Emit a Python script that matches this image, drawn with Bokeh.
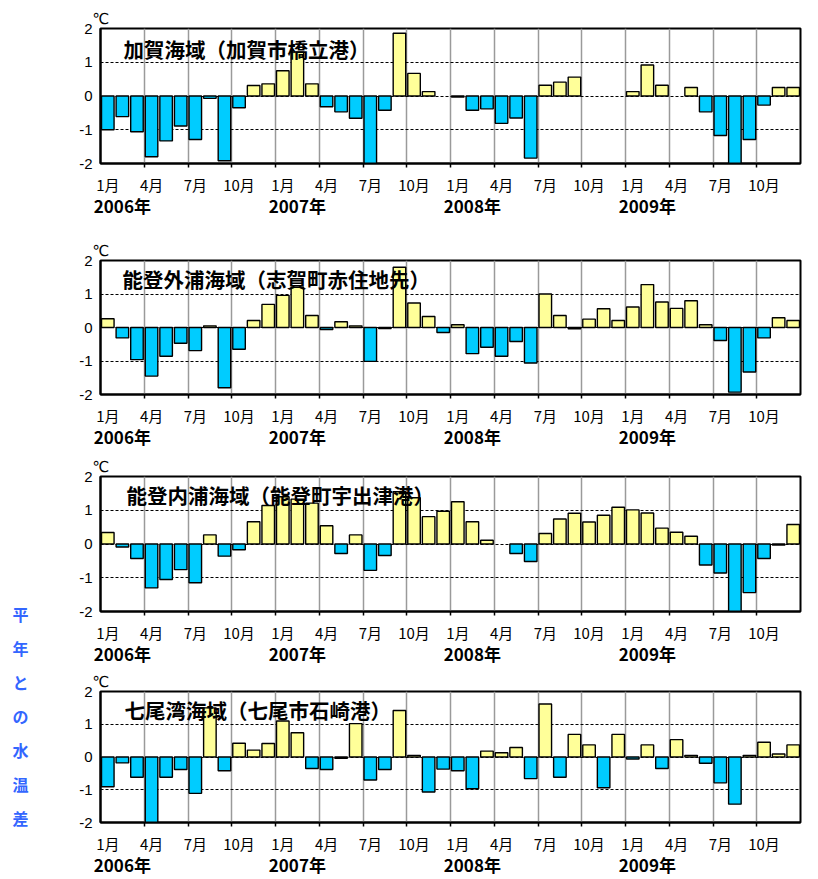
import math
from bokeh.plotting import figure
from bokeh.models import Range1d, FixedTicker, LinearAxis, Label, Title
from bokeh.layouts import row, column
from bokeh.embed import file_html
from bokeh.resources import INLINE
from bokeh.core.properties import value

nan = float("nan")

# ---- data -------------------------------------------------------------
months = list(range(48))  # Jan 2006 .. Dec 2009
month_tick_idx = [0, 3, 6, 9, 12, 15, 18, 21, 24, 27, 30, 33, 36, 39, 42, 45]
month_labels = ["1月", "4月", "7月", "10月"] * 4
year_tick_idx = [1, 13, 25, 37]
year_labels = ["2006年", "2007年", "2008年", "2009年"]
y_ticks = [-2, -1, 0, 1, 2]
y_labels = ["-2", "-1", "0", "1", "2"]
unit_label = "℃"
side_label = ["平", "年", "と", "の", "水", "温", "差"]

titles = ["加賀海域（加賀市橋立港）",
          "能登外浦海域（志賀町赤住地先）",
          "能登内浦海域（能登町宇出津港）",
          "七尾湾海域（七尾市石崎港）"]

kaga = [-1.00, -0.61, -1.06, -1.80, -1.33, -0.89, -1.29, -0.07, -1.92, -0.35, 0.31, 0.36,
        0.75, 1.30, 0.36, -0.32, -0.47, -0.66, -2.05, -0.42, 1.86, 0.67, 0.13, nan,
        -0.03, -0.42, -0.38, -0.81, -0.65, -1.84, 0.32, 0.41, 0.56, nan, nan, nan,
        0.13, 0.92, 0.32, nan, 0.25, -0.47, -1.17, -2.05, -1.29, -0.27, 0.25, 0.25]

sotoura = [0.26, -0.31, -0.96, -1.45, -0.86, -0.47, -0.69, 0.05, -1.80, -0.65, 0.21, 0.69,
           0.96, 1.20, 0.36, -0.06, 0.17, 0.05, -1.01, -0.03, 1.80, 0.73, 0.33, -0.15,
           0.08, -0.78, -0.59, -0.86, -0.42, -1.06, 1.00, 0.36, -0.04, 0.25, 0.56, 0.21,
           0.61, 1.28, 0.76, 0.57, 0.80, 0.08, -0.39, -1.93, -1.33, -0.31, 0.29, 0.21]

uchiura = [0.34, -0.09, -0.43, -1.30, -1.05, -0.76, -1.15, 0.27, -0.36, -0.17, 0.66, 1.14,
           1.40, 1.33, 1.21, 0.54, -0.28, 0.27, -0.78, -0.34, 1.55, 1.37, 0.81, 0.97,
           1.25, 0.66, 0.11, nan, -0.28, -0.52, 0.31, 0.74, 0.91, 0.65, 0.85, 1.09,
           1.01, 0.92, 0.47, 0.35, 0.23, -0.62, -0.86, -2.05, -1.44, -0.43, -0.03, 0.58]

nanao = [-0.91, -0.18, -0.62, -2.10, -0.62, -0.38, -1.11, 1.50, -0.42, 0.42, 0.21, 0.41,
         1.10, 0.74, -0.35, -0.38, -0.04, 1.02, -0.70, -0.38, 1.42, 0.05, -1.07, -0.37,
         -0.42, -0.97, 0.18, 0.13, 0.29, -0.66, 1.62, -0.62, 0.69, 0.37, -0.94, 0.69,
         -0.06, 0.37, -0.35, 0.53, 0.05, -0.19, -0.79, -1.44, 0.05, 0.45, 0.09, 0.37]

series = [kaga, sotoura, uchiura, nanao]

# ---- style ------------------------------------------------------------
POS = "#FFFF99"
NEG = "#00CCFF"
CJK = "Noto Sans CJK JP"
boundaries = [3 * k - 0.5 for k in range(1, 16)]

# geometry per panel: (height, border_left, border_right, border_top, border_bottom, title_dx, title_dy)
geoms = [
    (232, 50, 10, 28, 69, 23, 20),
    (223, 43, 18, 28, 61, 22, 18),
    (215, 49, 11, 20, 59, 26, 18),
    (209, 43, 18, 20, 57, 24, 18),
]
PANEL_W = 768
SIDE_W = 50


def make_panel(vals, title, geom):
    h, bl, br, bt, bb, tdx, tdy = geom
    p = figure(width=PANEL_W, height=h, output_backend="svg", toolbar_location=None,
               x_range=Range1d(-0.5, 47.5), y_range=Range1d(-2, 2),
               min_border_left=bl, min_border_right=br,
               min_border_top=bt, min_border_bottom=bb,
               tools="")
    colors = [POS if (not math.isnan(v) and v >= 0) else NEG for v in vals]
    p.vbar(x=months, top=vals, bottom=0, width=0.86, fill_color=colors,
           line_color="black", line_width=1.4)

    # grids
    p.xgrid.ticker = FixedTicker(ticks=boundaries)
    p.xgrid.grid_line_color = "#9a9a9a"
    p.xgrid.grid_line_width = 1.5
    p.ygrid.ticker = FixedTicker(ticks=[-1, 0, 1])
    p.ygrid.grid_line_color = "black"
    p.ygrid.grid_line_dash = "3 2"
    p.ygrid.grid_line_width = 1
    p.outline_line_color = "black"
    p.outline_line_width = 2

    # y axis
    yax = p.yaxis[0]
    yax.ticker = FixedTicker(ticks=y_ticks)
    yax.major_label_overrides = dict(zip(y_ticks, y_labels))
    yax.axis_line_width = 2
    yax.axis_line_color = "black"
    yax.major_tick_line_color = None
    yax.major_tick_out = 0
    yax.major_tick_in = 0
    yax.minor_tick_line_color = None
    yax.major_label_standoff = 8
    yax.major_label_text_font = "Liberation Sans"
    yax.major_label_text_font_size = "15px"
    yax.major_label_text_color = "black"

    # month axis
    xax = p.xaxis[0]
    xax.ticker = FixedTicker(ticks=month_tick_idx, minor_ticks=boundaries)
    xax.major_label_overrides = dict(zip(month_tick_idx, month_labels))
    xax.axis_line_width = 2
    xax.axis_line_color = "black"
    xax.major_tick_line_color = None
    xax.major_tick_out = 0
    xax.major_tick_in = 0
    xax.minor_tick_line_color = "black"
    xax.minor_tick_line_width = 1.5
    xax.minor_tick_out = 4
    xax.minor_tick_in = 0
    xax.major_label_standoff = 6
    xax.major_label_text_font = CJK
    xax.major_label_text_font_size = "15px"
    xax.major_label_text_color = "black"

    # year axis
    yr = LinearAxis(ticker=FixedTicker(ticks=year_tick_idx),
                    major_label_overrides=dict(zip(year_tick_idx, year_labels)))
    yr.axis_line_color = None
    yr.major_tick_line_color = None
    yr.minor_tick_line_color = None
    yr.major_tick_out = 0
    yr.major_tick_in = 0
    yr.major_label_standoff = -5
    yr.major_label_text_font = CJK
    yr.major_label_text_font_style = "bold"
    yr.major_label_text_font_size = "17px"
    yr.major_label_text_color = "black"
    p.add_layout(yr, "below")

    # unit (above the frame) and panel title (inside the frame)
    p.add_layout(Title(text=unit_label, align="left", offset=-8, standoff=1,
                       text_font="DejaVu Sans", text_font_size="15px",
                       text_font_style="normal", text_color="black"), "above")
    p.add_layout(Label(x=-0.5, y=2, x_offset=tdx, y_offset=-tdy, text=title,
                       text_font=CJK, text_font_size="20.5px", text_font_style="bold",
                       text_baseline="middle", text_align="left", text_color="black"))
    return p


panels = [make_panel(v, t, g) for v, t, g in zip(series, titles, geoms)]

total_h = sum(g[0] for g in geoms)
side = figure(width=SIDE_W, height=total_h, output_backend="svg", toolbar_location=None,
              x_range=Range1d(0, SIDE_W), y_range=Range1d(total_h, 0),
              min_border=0, tools="")
side.axis.visible = False
side.grid.visible = False
side.outline_line_color = None
side.text(x=[20] * len(side_label), y=[613 + 34 * i for i in range(len(side_label))],
          text=side_label, text_font=value(CJK), text_font_size="16px",
          text_font_style="bold", text_color="#3366FF",
          text_align="center", text_baseline="middle")

layout = row(side, column(*panels, spacing=0), spacing=0)
open("out.html", "w").write(file_html(layout, INLINE))
